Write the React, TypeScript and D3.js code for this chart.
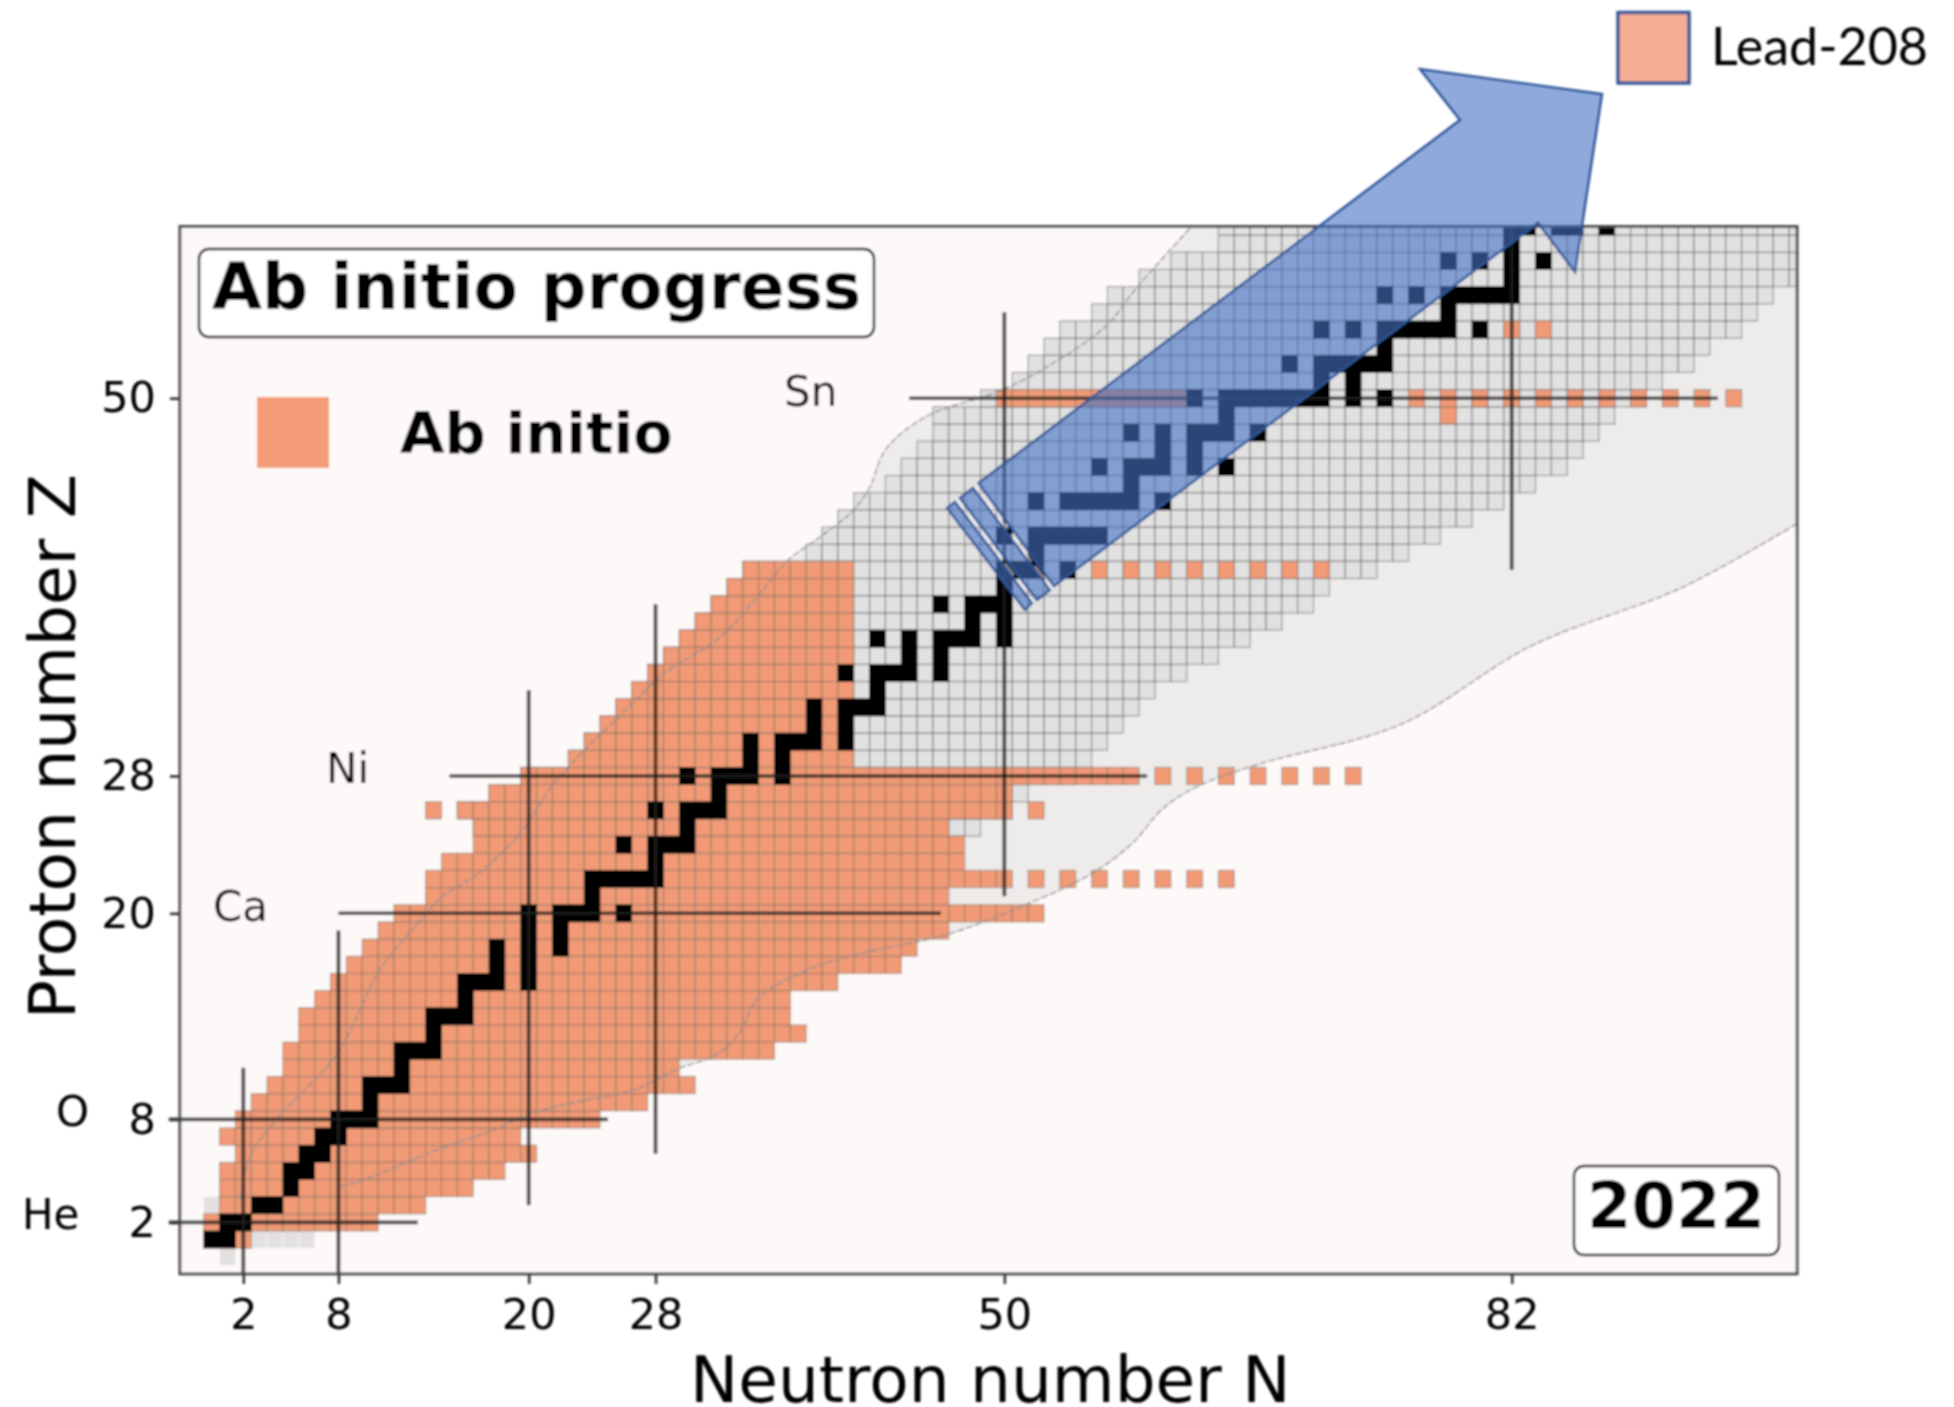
import React, { useEffect, useRef } from "react";
import * as d3 from "d3";

const WIDTH = 1954;
const HEIGHT = 1407;

const magicN = [2, 8, 20, 28, 50, 82];
const magicZ = [2, 8, 20, 28, 50];

// vertical / horizontal shell lines, as [magic, from, to]
const verticalShells = [
  [2, -1, 11],
  [8, -1, 19],
  [20, 3, 33],
  [28, 6, 38],
  [50, 21, 55],
  [82, 40, 60],
];
const horizontalShells = [
  [2, -2.7, 13],
  [8, -2.7, 25],
  [20, 8, 46],
  [28, 15, 59],
  [50, 44, 95],
];

// ab initio coverage: one row per proton number
const orangeZ = d3.range(1, 41);
const orangeFrom = [
  2, 0, 1, 1, 1, 2, 1, 2, 3, 4, 5, 5, 6, 6, 7, 8, 9, 10, 11, 12, 14, 14, 15, 17, 17, 16, 18, 20,
  23, 24, 25, 26, 27, 28, 29, 30, 31, 32, 33, 34,
];
const orangeTo = [
  2, 10, 13, 16, 18, 20, 19, 24, 27, 30, 29, 35, 37, 36, 36, 39, 43, 44, 46, 52, 46, 50, 47, 47,
  46, 50, 50, 58, 40, 40, 40, 40, 40, 40, 40, 40, 40, 40, 40, 40,
];
// ab initio cells off the main block, [Z, N]
const orangeExtraZ = [26, 26, 22, 22, 22, 22, 22, 22, 22, 28, 28, 28, 28, 28, 28, 28, 40, 40, 40, 40, 40, 40, 40, 40, 49, 54, 54];
const orangeExtraN = [14, 52, 52, 54, 56, 58, 60, 62, 64, 60, 62, 64, 66, 68, 70, 72, 56, 58, 60, 62, 64, 66, 68, 70, 78, 82, 84];
const tinN = [50, 51, 52, 53, 54, 55, 56, 57, 58, 59, 60, 61, 76, 78, 80, 82, 84, 86, 88, 90, 92, 94, 96];

// measured nuclei not covered above
const grayZ = d3.range(41, 61);
const grayFrom = [38, 39, 40, 41, 43, 44, 45, 46, 46, 49, 51, 52, 53, 54, 56, 57, 59, 61, 64, 64];
const grayTo = [75, 77, 79, 81, 83, 85, 86, 87, 88, 90, 91, 93, 94, 96, 97, 98, 100, 100, 100, 100];
const graySideZ = d3.range(25, 41);
const graySideTo = [48, 50, 51, 54, 55, 56, 57, 58, 59, 61, 63, 65, 67, 69, 70, 73];
const grayLooseZ = [0, 1, 1, 1, 1, 3];
const grayLooseN = [1, 3, 4, 5, 6, 0];

// stable nuclei, N values for each Z
const stableRows: [number, number[]][] = [
  [1, [0, 1]], [2, [1, 2]], [3, [3, 4]], [4, [5]], [5, [5, 6]], [6, [6, 7]], [7, [7, 8]],
  [8, [8, 9, 10]], [9, [10]], [10, [10, 11, 12]], [11, [12]], [12, [12, 13, 14]], [13, [14]],
  [14, [14, 15, 16]], [15, [16]], [16, [16, 17, 18, 20]], [17, [18, 20]], [18, [18, 20, 22]],
  [19, [20, 22]], [20, [20, 22, 23, 24, 26]], [21, [24]], [22, [24, 25, 26, 27, 28]], [23, [28]],
  [24, [26, 28, 29, 30]], [25, [30]], [26, [28, 30, 31, 32]], [27, [32]],
  [28, [30, 32, 33, 34, 36]], [29, [34, 36]], [30, [34, 36, 37, 38, 40]], [31, [38, 40]],
  [32, [38, 40, 41, 42]], [33, [42]], [34, [40, 42, 43, 44, 46]], [35, [44, 46]],
  [36, [42, 44, 46, 47, 48, 50]], [37, [48, 50]], [38, [46, 48, 49, 50]], [39, [50]],
  [40, [50, 51, 52, 54]], [41, [52]], [42, [50, 52, 53, 54, 55, 56]],
  [44, [52, 54, 55, 56, 57, 58, 60]], [45, [58]], [46, [56, 58, 59, 60, 62, 64]], [47, [60, 62]],
  [48, [58, 60, 62, 63, 64, 66]], [49, [64]], [50, [62, 64, 65, 66, 67, 68, 69, 70, 72, 74]],
  [51, [70, 72]], [52, [68, 70, 71, 72, 73, 74]], [53, [74]],
  [54, [70, 72, 74, 75, 76, 77, 78, 80]], [55, [78]], [56, [74, 76, 78, 79, 80, 81, 82]],
  [57, [82]], [58, [78, 80, 82, 84]], [59, [82]], [60, [82, 83, 85, 86, 88]],
];

// drip line estimates
const upperN = [1.8, 2.4, 3.9, 7.9, 10.6, 13, 14.6, 16.8, 19.5, 21.3, 23.1, 26.3, 28.6, 32.1, 34.4, 36.4, 38.5, 40.5, 41.5, 42.5, 45, 49.9, 53, 56.4, 58.4, 61.8];
const upperZ = [3.3, 5.8, 7.8, 11.8, 16.7, 19.4, 21, 22.3, 24.7, 27.2, 29.1, 32, 34, 36.1, 38.4, 40.6, 42, 43.5, 44.8, 47, 48.9, 50.5, 52, 54.2, 56.5, 60];
const lowerN = [8.1, 9.4, 13.6, 17.8, 20.3, 24, 26.6, 29.3, 31.9, 33.4, 34.4, 37.1, 40.2, 46.5, 51.6, 55.5, 58.1, 60, 62.2, 66.1, 75, 83.3, 92.8, 100];
const lowerZ = [4.1, 4.4, 6, 7.4, 8.4, 9.2, 9.7, 10.9, 11.8, 13.2, 15, 16.5, 17.5, 18.8, 20.6, 22.3, 24.1, 26.1, 27.4, 28.7, 31, 35.6, 39, 42.7];

const elementNames = ["He", "O", "Ca", "Ni", "Sn"];

const App = () => {
  const svgRef = useRef<SVGSVGElement>(null);

  useEffect(() => {
    const x = d3.scaleLinear().domain([-2, 100]).range([179.9, 1797.1]);
    const y = d3.scaleLinear().domain([-1, 60]).range([1273.9, 226.5]);
    const cw = x(1) - x(0);
    const ch = y(0) - y(1);

    const root = d3.select(svgRef.current);
    root.selectAll("*").remove();

    const defs = root.append("defs");
    defs.append("filter")
      .attr("id", "soft")
      .attr("filterUnits", "userSpaceOnUse")
      .attr("x", 0)
      .attr("y", 0)
      .attr("width", WIDTH)
      .attr("height", HEIGHT)
      .append("feGaussianBlur")
      .attr("stdDeviation", 0.8);
    defs.append("clipPath").attr("id", "plot").append("rect")
      .attr("x", x(-2)).attr("y", y(60)).attr("width", x(100) - x(-2)).attr("height", y(-1) - y(60));

    const svg = root.append("g").attr("filter", "url(#soft)");

    svg.append("rect")
      .attr("x", x(-2)).attr("y", y(60)).attr("width", x(100) - x(-2)).attr("height", y(-1) - y(60))
      .attr("fill", "#fdf9f8");

    const plot = svg.append("g").attr("clip-path", "url(#plot)");

    // band between the two drip lines
    const upper = upperN.map((n, i) => [n, upperZ[i]] as [number, number]);
    const lower = lowerN.map((n, i) => [n, lowerZ[i]] as [number, number]);
    const curve = d3.line<[number, number]>().x((d) => x(d[0])).y((d) => y(d[1])).curve(d3.curveCatmullRom);
    const bandPath = curve(upper)! + `L${x(100)},${y(60)}` + curve(lower.slice().reverse())!.replace("M", "L") + "Z";
    plot.append("path").attr("d", bandPath).attr("fill", "#eeeceb");

    const cellRows = (zs: number[], from: number[], to: number[]) =>
      zs.flatMap((z, i) => d3.range(from[i], to[i] + 1).map((n) => ({ n, z })));

    const drawCells = (cells: { n: number; z: number }[], fill: string, stroke: string, lw: number) => {
      plot.append("g")
        .selectAll("rect")
        .data(cells)
        .join("rect")
        .attr("x", (d) => x(d.n) - cw / 2)
        .attr("y", (d) => y(d.z) - ch / 2)
        .attr("width", cw)
        .attr("height", ch)
        .attr("fill", fill)
        .attr("stroke", stroke)
        .attr("stroke-width", lw);
    };

    const grayCells = [
      ...cellRows(grayZ, grayFrom, grayTo),
      ...graySideZ.flatMap((z, i) => d3.range(orangeFrom[z - 1], graySideTo[i] + 1).map((n) => ({ n, z }))),
    ];
    drawCells(grayCells, "#e1e1e1", "rgba(70,70,70,0.55)", 1.1);
    drawCells(grayLooseZ.map((z, i) => ({ z, n: grayLooseN[i] })), "#e3e1e0", "rgba(255,255,255,0.4)", 1);

    const orangeCells = [
      ...cellRows(orangeZ, orangeFrom, orangeTo),
      ...orangeExtraZ.map((z, i) => ({ z, n: orangeExtraN[i] })),
      ...tinN.map((n) => ({ z: 50, n })),
    ];
    drawCells(orangeCells, "#f19a74", "rgba(120,110,105,0.6)", 1.1);

    const stableCells = stableRows.flatMap(([z, ns]) => ns.map((n) => ({ z, n })));
    drawCells(stableCells, "#000", "#000", 0.5);

    // shell closure lines
    const shellColor = "rgba(30,30,30,0.8)";
    svg.append("g")
      .selectAll("line")
      .data(verticalShells)
      .join("line")
      .attr("x1", (d) => x(d[0]))
      .attr("x2", (d) => x(d[0]))
      .attr("y1", (d) => y(d[1]))
      .attr("y2", (d) => y(d[2]))
      .attr("stroke", shellColor)
      .attr("stroke-width", 3.8);
    svg.append("g")
      .selectAll("line")
      .data(horizontalShells)
      .join("line")
      .attr("x1", (d) => x(d[1]))
      .attr("x2", (d) => x(d[2]))
      .attr("y1", (d) => y(d[0]))
      .attr("y2", (d) => y(d[0]))
      .attr("stroke", shellColor)
      .attr("stroke-width", 3.6);

    // drip lines over the cells
    const dripStyle = (sel: any) =>
      sel.attr("fill", "none").attr("stroke", "#8f8f8f").attr("stroke-width", 1.4).attr("stroke-dasharray", "7 2");
    plot.append("path").attr("d", curve(upper)).call(dripStyle);
    plot.append("path").attr("d", curve(lower)).call(dripStyle);

    // frame
    svg.append("rect")
      .attr("x", x(-2)).attr("y", y(60)).attr("width", x(100) - x(-2)).attr("height", y(-1) - y(60))
      .attr("fill", "none")
      .attr("stroke", "#444")
      .attr("stroke-width", 2.8);

    // axes
    const styleAxis = (g: any) => {
      g.select(".domain").remove();
      g.selectAll(".tick line").attr("stroke", "#333").attr("stroke-width", 2.6);
      g.selectAll(".tick text")
        .attr("font-family", "DejaVu Sans")
        .attr("font-size", 43)
        .attr("fill", "#000");
    };
    svg.append("g")
      .attr("transform", `translate(0,${y(-1)})`)
      .call(d3.axisBottom(x).tickValues(magicN).tickSize(10).tickPadding(15))
      .call(styleAxis);
    svg.append("g")
      .attr("transform", `translate(${x(-2)},0)`)
      .call(d3.axisLeft(y).tickValues(magicZ).tickSize(10).tickPadding(14))
      .call(styleAxis);

    const label = (text: string, px: number, py: number, size: number, weight = "normal", family = "DejaVu Sans") =>
      svg.append("text")
        .attr("x", px)
        .attr("y", py)
        .attr("font-family", family)
        .attr("font-size", size)
        .attr("font-weight", weight)
        .attr("fill", "#000")
        .text(text);

    label("Neutron number N", 690, 1402, 64.5);
    label("Proton number Z", 0, 0, 64.5).attr("transform", "translate(75,1019) rotate(-90)");

    // element names next to the closed proton shells
    const elementAt = [[22, 1229], [56, 1126], [213, 921], [326, 783], [784, 406]];
    elementNames.forEach((name, i) => label(name, elementAt[i][0], elementAt[i][1], 42));

    // inset boxes
    const box = (bx: number, by: number, bw: number, bh: number) =>
      svg.append("rect")
        .attr("x", bx).attr("y", by).attr("width", bw).attr("height", bh)
        .attr("rx", 10).attr("fill", "#fff").attr("stroke", "#111").attr("stroke-width", 2.4);
    box(199, 249, 675, 88);
    label("Ab initio progress", 212, 309, 64.5, "bold");
    box(1574, 1166, 205, 89);
    label("2022", 1587, 1228, 64, "bold");

    svg.append("rect").attr("x", 257).attr("y", 397).attr("width", 72).attr("height", 71).attr("fill", "#f49b78");
    label("Ab initio", 400, 453, 57.5, "bold");

    // progress arrow, three striped pieces at the tail
    const arrowBlue = "rgba(68,114,196,0.6)";
    const arrowEdge = "#2f5597";
    const piece = (pts: number[][]) =>
      svg.append("polygon")
        .attr("points", pts.map((p) => p.join(",")).join(" "))
        .attr("fill", arrowBlue)
        .attr("stroke", arrowEdge)
        .attr("stroke-width", 2.4)
        .attr("stroke-linejoin", "miter");
    piece([[978.5, 483], [1460, 120], [1420, 69], [1602, 94], [1575, 272], [1538, 223], [1054, 586]]);
    piece([[960, 498], [973, 488], [1050, 590], [1037, 600]]);
    piece([[947, 508], [955, 502], [1032, 603], [1025, 610]]);
    [[[975, 486], [1052, 589]], [[957, 500], [1034, 602]]].forEach((s) =>
      svg.append("line")
        .attr("x1", s[0][0]).attr("y1", s[0][1]).attr("x2", s[1][0]).attr("y2", s[1][1])
        .attr("stroke", "#fff").attr("stroke-width", 2).attr("stroke-opacity", 0.6).attr("stroke-dasharray", "14 6")
    );

    // outer key
    svg.append("rect")
      .attr("x", 1618).attr("y", 12.5).attr("width", 71).attr("height", 70.5)
      .attr("fill", "#f4ae94").attr("stroke", arrowEdge).attr("stroke-width", 3.4);
    label("Lead-208", 1711, 65, 52, "normal", "Lato");
  }, []);

  return (
    <svg
      ref={svgRef}
      width={WIDTH}
      height={HEIGHT}
      style={{ position: "absolute", left: 0, top: 0, background: "#fff" }}
    />
  );
};

export default App;
